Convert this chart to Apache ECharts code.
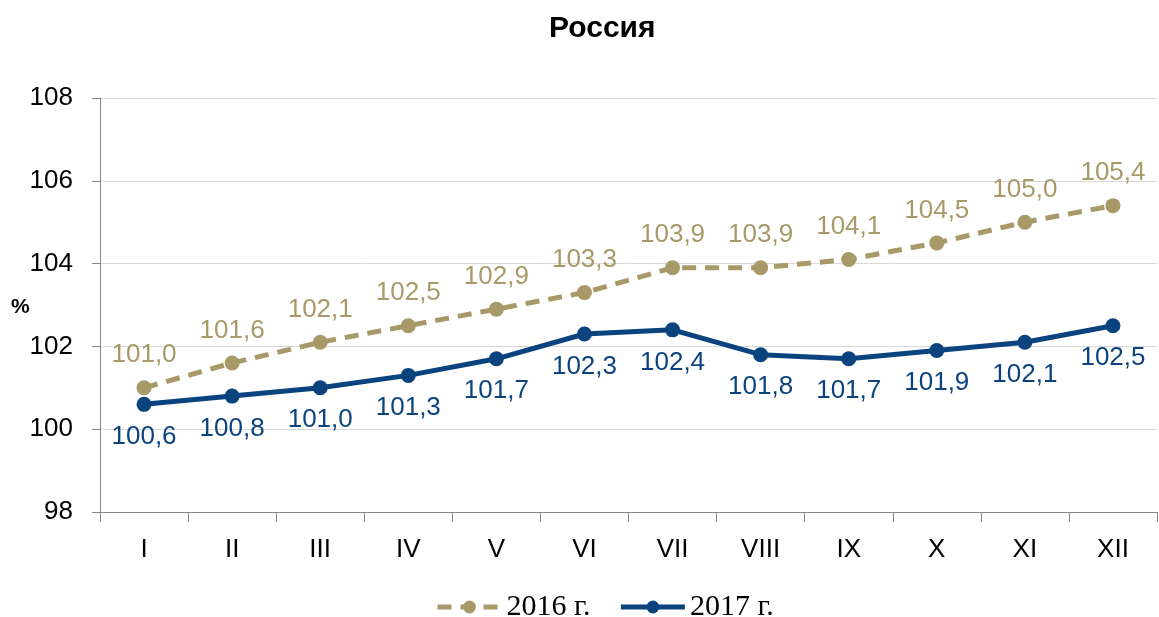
<!DOCTYPE html>
<html>
<head>
<meta charset="utf-8">
<script src="https://cdn.jsdelivr.net/npm/echarts@6/dist/echarts.min.js"></script>
<style>
  html, body { margin: 0; padding: 0; background: #fff; }
  #chart { width: 1159px; height: 617px; }
</style>
</head>
<body>
<div id="chart"></div>
<script>
var months = ['I', 'II', 'III', 'IV', 'V', 'VI', 'VII', 'VIII', 'IX', 'X', 'XI', 'XII'];
var values2016 = [101.0, 101.6, 102.1, 102.5, 102.9, 103.3, 103.9, 103.9, 104.1, 104.5, 105.0, 105.4];
var values2017 = [100.6, 100.8, 101.0, 101.3, 101.7, 102.3, 102.4, 101.8, 101.7, 101.9, 102.1, 102.5];
var seriesNames = ['2016 г.', '2017 г.'];

var gold = '#a89a68';
var blue = '#0b437f';

function fmt(p) {
  return p.value.toFixed(1).replace('.', ',');
}

var chart = echarts.init(document.getElementById('chart'));
chart.setOption({
  animation: false,
  title: {
    text: 'Россия',
    left: 544,
    top: 9,
    textStyle: { fontFamily: 'Liberation Sans', fontWeight: 'bold', fontSize: 30, color: '#000' }
  },
  legend: {
    top: 587,
    left: 430,
    itemWidth: 64,
    itemHeight: 16,
    itemGap: 28,
    lineStyle: { width: 5 },
    textStyle: { fontFamily: 'Liberation Serif', fontSize: 30, color: '#000' },
    data: seriesNames
  },
  graphic: [{
    type: 'text',
    left: 11,
    top: 297,
    style: { text: '%', font: 'bold 21px "Liberation Sans"', fill: '#000' }
  }],
  grid: { left: 100, right: 2, top: 98, bottom: 105 },
  xAxis: {
    type: 'category',
    data: months,
    boundaryGap: true,
    axisLine: { lineStyle: { color: '#868686', width: 1 } },
    axisTick: { show: true, length: 10, lineStyle: { color: '#868686' } },
    axisLabel: { fontFamily: 'Liberation Sans', fontSize: 26, color: '#000', margin: 25 }
  },
  yAxis: {
    type: 'value',
    min: 98,
    max: 108,
    interval: 2,
    axisLine: { show: true, lineStyle: { color: '#868686', width: 1 } },
    axisTick: { show: true, length: 8, lineStyle: { color: '#868686' } },
    axisLabel: { fontFamily: 'Liberation Sans', fontSize: 26, color: '#000', margin: 27 },
    splitLine: { lineStyle: { color: '#d9d9d9', width: 1 } }
  },
  series: [{
    name: seriesNames[0],
    type: 'line',
    data: values2016,
    symbol: 'circle',
    symbolSize: 15,
    itemStyle: { color: gold },
    lineStyle: { color: gold, width: 5, type: [14, 9] },
    label: {
      show: true,
      position: 'top',
      distance: 12,
      formatter: fmt,
      fontFamily: 'Liberation Sans',
      fontSize: 26,
      color: gold
    }
  }, {
    name: seriesNames[1],
    type: 'line',
    data: values2017,
    symbol: 'circle',
    symbolSize: 15,
    itemStyle: { color: blue },
    lineStyle: { color: blue, width: 5 },
    label: {
      show: true,
      position: 'bottom',
      distance: 12,
      formatter: fmt,
      fontFamily: 'Liberation Sans',
      fontSize: 26,
      color: blue
    }
  }]
});
</script>
</body>
</html>
